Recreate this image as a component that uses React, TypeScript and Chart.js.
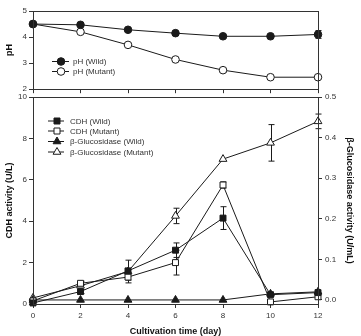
import React, { useEffect, useRef } from 'react';
import { Chart, registerables } from 'chart.js';

Chart.register(...registerables);

const days = [0, 2, 4, 6, 8, 10, 12];
const dayTicks = [0, 2, 4, 6, 8, 10, 12];

const phWild = [4.5, 4.47, 4.28, 4.15, 4.03, 4.03, 4.1];
const phWildErr = [0, 0, 0, 0, 0, 0, 0.15];
const phMutant = [4.5, 4.2, 3.7, 3.14, 2.73, 2.46, 2.46];
const phMutantErr = [0, 0, 0.05, 0, 0.07, 0, 0];
const phTicks = [2, 3, 4, 5];

const cdhWild = [0.05, 0.6, 1.6, 2.6, 4.15, 0.45, 0.55];
const cdhWildErr = [0, 0.1, 0, 0.35, 0.55, 0, 0];
const cdhMutant = [0.15, 1.0, 1.3, 2.0, 5.75, 0.1, 0.35];
const cdhMutantErr = [0.05, 0.1, 0.15, 0.6, 0.15, 0, 0];
const cdhTicks = [0, 2, 4, 6, 8, 10];

const gluWild = [0, 0, 0, 0, 0, 0.015, 0.02];
const gluWildErr = [0, 0, 0, 0, 0, 0, 0];
const gluMutant = [0.005, 0.035, 0.07, 0.207, 0.347, 0.387, 0.44];
const gluMutantErr = [0, 0, 0.028, 0.019, 0, 0.045, 0.018];
const gluTicks = [0, 0.1, 0.2, 0.3, 0.4, 0.5];

const INK = '#1a1a1a';
const AXIS = '#333';
const FONT = '"Liberation Sans", Arial, sans-serif';

function markerPath(ctx: CanvasRenderingContext2D, style: string, x: number, y: number) {
  ctx.beginPath();
  if (style === 'circle') {
    ctx.arc(x, y, 3.8, 0, Math.PI * 2);
  } else if (style === 'rect') {
    ctx.rect(x - 3, y - 3, 6, 6);
  } else {
    const r = 4.5;
    for (let k = 0; k < 3; k++) {
      const a = (k * 2 * Math.PI) / 3;
      const px = x + Math.sin(a) * r;
      const py = y - Math.cos(a) * r;
      if (k === 0) ctx.moveTo(px, py);
      else ctx.lineTo(px, py);
    }
    ctx.closePath();
  }
}

function makeLegendPlugin(items: { label: string; style: string; filled: boolean; y: number }[], x0: number, x1: number, xm: number, xt: number) {
  return {
    id: 'customLegend',
    afterDraw(chart: any) {
      const ctx = chart.ctx as CanvasRenderingContext2D;
      ctx.save();
      items.forEach((it) => {
        ctx.strokeStyle = INK;
        ctx.lineWidth = 1;
        ctx.beginPath();
        ctx.moveTo(x0, it.y);
        ctx.lineTo(x1, it.y);
        ctx.stroke();
        markerPath(ctx, it.style, xm, it.y);
        ctx.fillStyle = it.filled ? INK : '#fff';
        ctx.fill();
        ctx.stroke();
        ctx.fillStyle = '#333';
        ctx.font = `8px ${FONT}`;
        ctx.textBaseline = 'middle';
        ctx.textAlign = 'left';
        ctx.fillText(it.label, xt, it.y + 0.5);
      });
      ctx.restore();
    },
  };
}

const errorBarPlugin = {
  id: 'errorBars',
  beforeDatasetsDraw(chart: any) {
    const ctx = chart.ctx as CanvasRenderingContext2D;
    const xs = chart.scales.x;
    ctx.save();
    ctx.strokeStyle = INK;
    ctx.lineWidth = 1;
    chart.data.datasets.forEach((ds: any) => {
      const ys = chart.scales[ds.yAxisID];
      const errs: number[] = ds.errors || [];
      ds.data.forEach((p: any, i: number) => {
        const e = errs[i];
        if (!e) return;
        const x = Math.round(xs.getPixelForValue(p.x)) + 0.5;
        const yt = ys.getPixelForValue(p.y + e);
        const yb = ys.getPixelForValue(p.y - e);
        ctx.beginPath();
        ctx.moveTo(x, yt);
        ctx.lineTo(x, yb);
        ctx.moveTo(x - 3, yt);
        ctx.lineTo(x + 3, yt);
        ctx.moveTo(x - 3, yb);
        ctx.lineTo(x + 3, yb);
        ctx.stroke();
      });
    });
    ctx.restore();
  },
};

const framePlugin = {
  id: 'frame',
  afterDraw(chart: any) {
    const { left, top, right, bottom } = chart.chartArea;
    const ctx = chart.ctx as CanvasRenderingContext2D;
    ctx.save();
    ctx.strokeStyle = AXIS;
    ctx.lineWidth = 1;
    ctx.strokeRect(Math.round(left) + 0.5, Math.round(top) + 0.5, Math.round(right - left), Math.round(bottom - top));
    ctx.restore();
  },
};

function series(label: string, xs: number[], ys: number[], errs: number[], style: string, filled: boolean, axis: string, radius: number) {
  return {
    label,
    data: xs.map((d, i) => ({ x: d, y: ys[i] })),
    errors: errs,
    yAxisID: axis,
    borderColor: INK,
    borderWidth: 1,
    pointStyle: style,
    pointRadius: radius,
    pointBorderWidth: 1,
    pointBackgroundColor: filled ? INK : '#fff',
    pointBorderColor: INK,
    tension: 0,
    clip: false,
    fill: false,
  };
}

const tickFont = { family: FONT, size: 8 };
const titleFont = { family: FONT, size: 9, weight: 'bold' as const, lineHeight: 1 };

export default function App() {
  const topRef = useRef<HTMLCanvasElement>(null);
  const botRef = useRef<HTMLCanvasElement>(null);

  useEffect(() => {
    const top = new Chart(topRef.current as HTMLCanvasElement, {
      type: 'line',
      data: {
        datasets: [
          series('pH (Wild)', days, phWild, phWildErr, 'circle', true, 'y', 3.8),
          series('pH (Mutant)', days, phMutant, phMutantErr, 'circle', false, 'y', 3.8),
        ] as any,
      },
      options: {
        responsive: false,
        animation: false,
        devicePixelRatio: 1,
        layout: { padding: { top: 11, right: 43, left: 0, bottom: 0 } },
        plugins: { legend: { display: false }, tooltip: { enabled: false } },
        scales: {
          x: {
            type: 'linear',
            min: 0,
            max: 12,
            afterBuildTicks: (s: any) => { s.ticks = dayTicks.map((v) => ({ value: v })); },
            ticks: { display: false },
            grid: { drawOnChartArea: false, tickLength: 4, color: AXIS },
            border: { display: false },
            afterFit: (s: any) => { s.height = 6; },
          },
          y: {
            min: 2,
            max: 5,
            afterBuildTicks: (s: any) => { s.ticks = phTicks.map((v) => ({ value: v })); },
            ticks: { font: tickFont, color: '#333', padding: 2 },
            grid: { drawOnChartArea: false, tickLength: 4, color: AXIS },
            border: { display: false },
            title: { display: true, text: 'pH', font: titleFont, color: '#111', padding: { top: 5.5, bottom: 0 } },
            afterFit: (s: any) => { s.width = 33; },
          },
        },
      } as any,
      plugins: [
        errorBarPlugin,
        framePlugin,
        makeLegendPlugin(
          [
            { label: 'pH (Wild)', style: 'circle', filled: true, y: 61.5 },
            { label: 'pH (Mutant)', style: 'circle', filled: false, y: 71.5 },
          ],
          52, 69, 61, 73
        ),
      ],
    });

    const bot = new Chart(botRef.current as HTMLCanvasElement, {
      type: 'line',
      data: {
        datasets: [
          series('CDH (Wild)', days, cdhWild, cdhWildErr, 'rect', true, 'y', 4.2),
          series('CDH (Mutant)', days, cdhMutant, cdhMutantErr, 'rect', false, 'y', 4.2),
          series('β-Glucosidase (Wild)', days, gluWild, gluWildErr, 'triangle', true, 'y2', 4.5),
          series('β-Glucosidase (Mutant)', days, gluMutant, gluMutantErr, 'triangle', false, 'y2', 4.5),
        ] as any,
      },
      options: {
        responsive: false,
        animation: false,
        devicePixelRatio: 1,
        layout: { padding: { top: 9, right: 0, left: 0, bottom: 0 } },
        plugins: { legend: { display: false }, tooltip: { enabled: false } },
        scales: {
          x: {
            type: 'linear',
            min: 0,
            max: 12,
            afterBuildTicks: (s: any) => { s.ticks = dayTicks.map((v) => ({ value: v })); },
            ticks: { font: tickFont, color: '#333', padding: 3, maxRotation: 0 },
            grid: { drawOnChartArea: false, tickLength: 4, color: AXIS },
            border: { display: false },
            title: { display: true, text: 'Cultivation time (day)', font: titleFont, color: '#111', padding: { top: 0, bottom: 0 } },
            afterFit: (s: any) => { s.height = 32; },
          },
          y: {
            position: 'left',
            min: 0,
            max: 10,
            afterBuildTicks: (s: any) => { s.ticks = cdhTicks.map((v) => ({ value: v })); },
            ticks: { font: tickFont, color: '#333', padding: 2 },
            grid: { drawOnChartArea: false, tickLength: 4, color: AXIS },
            border: { display: false },
            title: { display: true, text: 'CDH activity (U/L)', font: titleFont, color: '#111', padding: { top: 5.5, bottom: 0 } },
            afterFit: (s: any) => { s.width = 33; },
          },
          y2: {
            position: 'right',
            min: -0.01,
            max: 0.5,
            afterBuildTicks: (s: any) => { s.ticks = gluTicks.map((v) => ({ value: v })); },
            ticks: { font: tickFont, color: '#333', padding: 3, callback: (v: any) => Number(v).toFixed(1) },
            grid: { drawOnChartArea: false, tickLength: 4, color: AXIS },
            border: { display: false },
            title: { display: true, text: 'β-Glucosidase activity (U/mL)', font: titleFont, color: '#111', padding: { top: 7, bottom: 0 } },
            afterFit: (s: any) => { s.width = 43; },
          },
        },
      } as any,
      plugins: [
        errorBarPlugin,
        framePlugin,
        makeLegendPlugin(
          [
            { label: 'CDH (Wild)', style: 'rect', filled: true, y: 33 },
            { label: 'CDH (Mutant)', style: 'rect', filled: false, y: 43 },
            { label: 'β-Glucosidase (Wild)', style: 'triangle', filled: true, y: 53.5 },
            { label: 'β-Glucosidase (Mutant)', style: 'triangle', filled: false, y: 64 },
          ],
          48, 64, 57, 70
        ),
      ],
    });

    return () => {
      top.destroy();
      bot.destroy();
    };
  }, []);

  return (
    <div style={{ position: 'absolute', left: 0, top: 0, width: 361, height: 336, overflow: 'hidden', background: '#fff' }}>
      <canvas ref={topRef} width={361} height={96} style={{ position: 'absolute', left: 0, top: 0 }} />
      <canvas ref={botRef} width={361} height={248} style={{ position: 'absolute', left: 0, top: 88 }} />
    </div>
  );
}
